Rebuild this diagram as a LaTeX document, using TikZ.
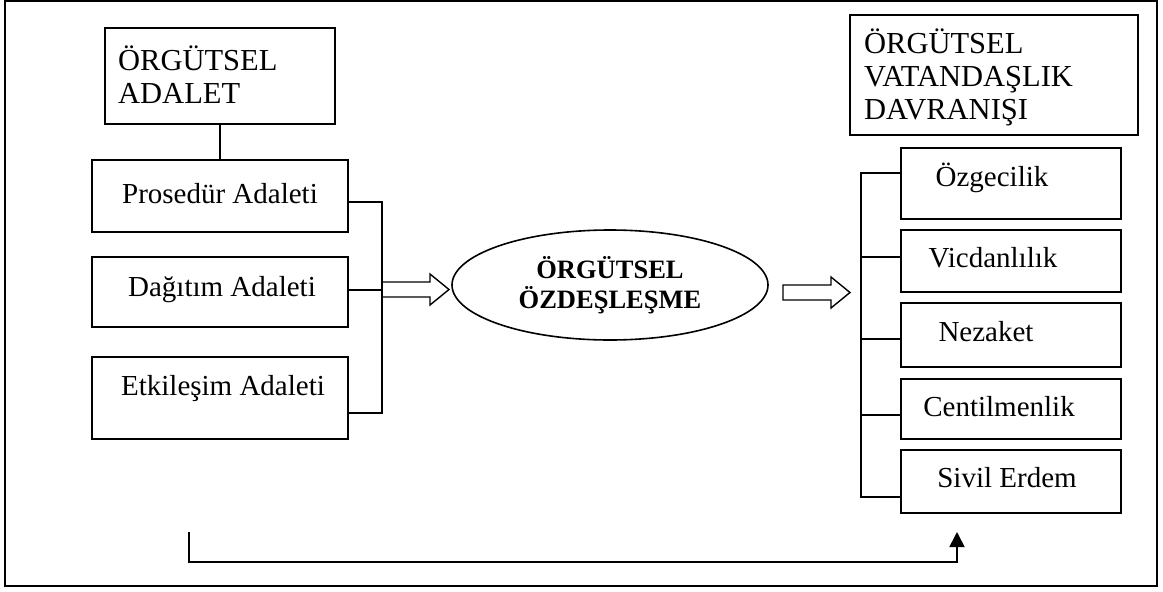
\documentclass[tikz,border=0pt]{standalone}
\usepackage{fontspec}
\setmainfont{Liberation Serif}
\usetikzlibrary{shapes.geometric,arrows.meta,calc}
\begin{document}
\begin{tikzpicture}[x=1pt,y=-1pt,
  box/.style={draw, line width=1.6pt, rectangle, inner sep=0pt},
  txt/.style={inner sep=0pt, font=\fontsize{29}{33}\selectfont},
  head/.style={inner sep=0pt, align=left, anchor=base west, font=\fontsize{30.5}{33}\selectfont},
  conn/.style={line width=1.6pt},
  hollow/.pic={\draw[line width=1.4pt, line join=miter] (0,-7.5) -- (48,-7.5) -- (48,-15.5) -- (67,0) -- (48,15.5) -- (48,7.5) -- (0,7.5) -- cycle;}
]
\useasboundingbox (0,0) rectangle (1163,592);
\node[box, line width=2.4pt, minimum width=1152pt, minimum height=585pt] (frame) at (581,293.5) {};

% left side
\node[box, minimum width=230pt, minimum height=96pt] (adal) at (220,76) {};
\node[head] (adaltxt) at (118,103) {ÖRGÜTSEL\\ADALET};
\node[box, minimum width=256pt, minimum height=72pt] (pros) at (220,196) {};
\node[txt, anchor=base] (prostxt) at (220,203) {Prosedür Adaleti};
\node[box, minimum width=256pt, minimum height=70pt] (dag) at (220,292) {};
\node[txt, anchor=base] (dagtxt) at (222,296) {Dağıtım Adaleti};
\node[box, minimum width=256pt, minimum height=82pt] (etk) at (220,398) {};
\node[txt, anchor=base] (etktxt) at (223,395) {Etkileşim Adaleti};

\coordinate (bl1) at (382,202);
\coordinate (bl2) at (382,413);
\draw[conn] (adal.south) -- (pros.north);
\draw[conn] ($(pros.east)+(0,6)$) -- (bl1) -- (bl2) -- ($(etk.east)+(0,15)$);
\draw[conn] ($(dag.east)+(0,-2)$) -- ($(dag.east)+(34,-2)$);

% hollow arrows
\pic at (382,289.5) {hollow};
\pic at (783,292.5) {hollow};

% centre
\node[draw, ellipse, line width=1.6pt, minimum width=316pt, minimum height=110pt, inner sep=0pt, align=center, font=\bfseries\fontsize{26.5}{30}\selectfont] (oz) at (610,285) {ÖRGÜTSEL\\ÖZDEŞLEŞME};

% right side
\node[box, minimum width=288pt, minimum height=120pt] (ovd) at (994,75) {};
\node[head] (ovdtxt) at (864,119) {ÖRGÜTSEL\\VATANDAŞLIK\\DAVRANIŞI};

\node[box, minimum width=220pt, minimum height=71pt] (ozg) at (1011,183.5) {};
\node[txt, anchor=base] (ozgtxt) at (992,186) {Özgecilik};
\node[box, minimum width=220pt, minimum height=62pt] (vic) at (1011,261) {};
\node[txt, anchor=base] (victxt) at (993,267) {Vicdanlılık};
\node[box, minimum width=220pt, minimum height=64pt] (nez) at (1011,335) {};
\node[txt, anchor=base] (neztxt) at (986,341) {Nezaket};
\node[box, minimum width=220pt, minimum height=60pt] (cen) at (1011,409) {};
\node[txt, anchor=base] (centxt) at (999,416) {Centilmenlik};
\node[box, minimum width=220pt, minimum height=63pt] (siv) at (1011,481.5) {};
\node[txt, anchor=base] (sivtxt) at (1007,487) {Sivil Erdem};

\coordinate (br1) at (861,173);
\coordinate (br2) at (861,497);
\draw[conn] ($(ozg.west)+(0,-10.5)$) -- (br1) -- (br2) -- ($(siv.west)+(0,15.5)$);
\draw[conn] ($(vic.west)+(0,-4)$) -- ($(vic.west)+(-40,-4)$);
\draw[conn] ($(nez.west)+(0,4)$) -- ($(nez.west)+(-40,4)$);
\draw[conn] ($(cen.west)+(0,6)$) -- ($(cen.west)+(-40,6)$);

% bottom arrow
\coordinate (bs) at (189,532);
\coordinate (be) at (957,532);
\coordinate (bb) at (573,562);
\draw[conn, -{Triangle[length=15pt,width=15pt]}] (bs) |- (bb) -| (be);
\end{tikzpicture}
\end{document}
